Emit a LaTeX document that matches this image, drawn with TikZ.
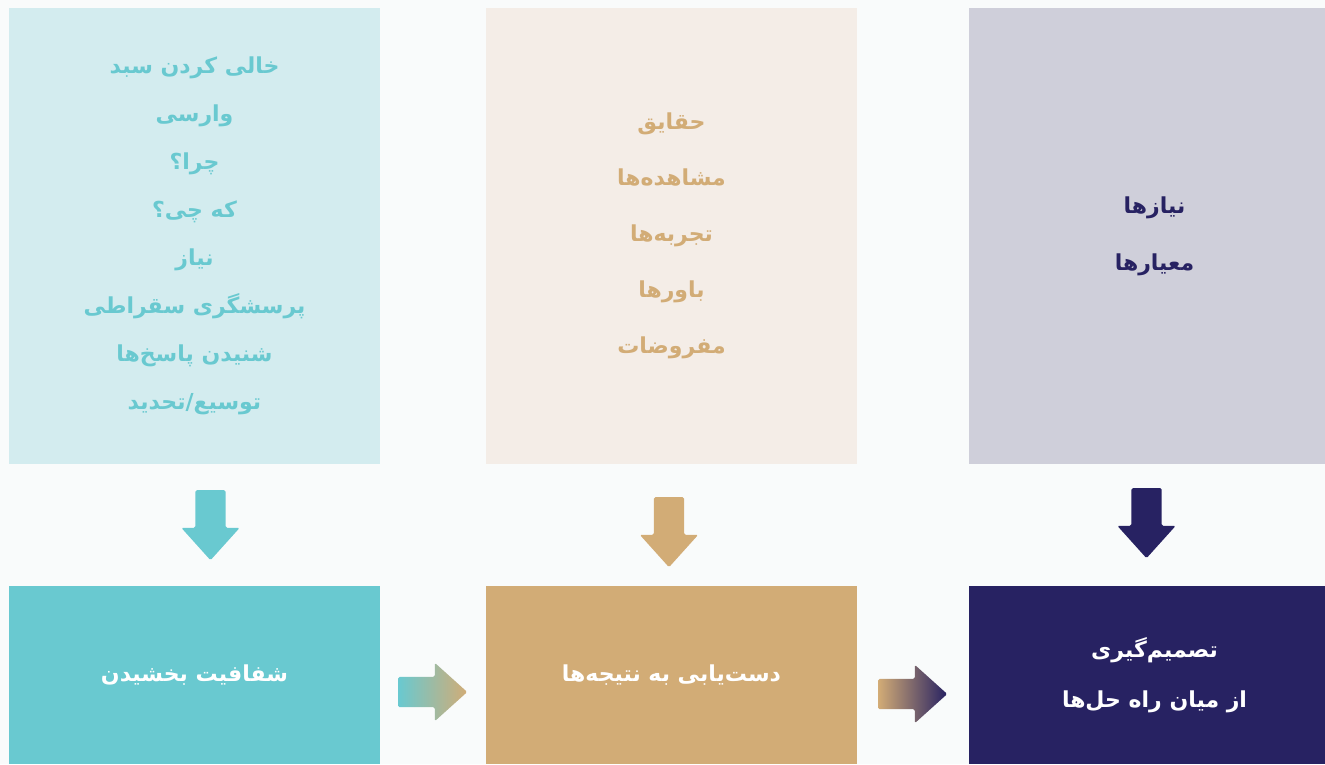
\documentclass[tikz,border=0pt]{standalone}
\usepackage{fontspec}
\newfontfamily\arabicfont[Script=Arabic]{DejaVu Sans}
\TeXXeTstate=1
\usetikzlibrary{shapes.arrows}
\definecolor{tealc}{HTML}{69C9D0}
\definecolor{tealbg}{HTML}{D3ECEF}
\definecolor{sandc}{HTML}{D2AC76}
\definecolor{sandbg}{HTML}{F4EDE7}
\definecolor{navyc}{HTML}{272262}
\definecolor{navybg}{HTML}{CFCFDA}
\definecolor{pagebg}{HTML}{F9FBFB}
\newcommand{\fa}[1]{\beginR #1\endR}
\tikzset{
  inbox/.style={minimum width=371pt, minimum height=456pt, inner sep=0pt, align=center,
    font=\arabicfont\bfseries\fontsize{22}{#1}\selectfont},
  outbox/.style={minimum width=371pt, minimum height=178pt, inner sep=0pt, align=center,
    text=white, font=\arabicfont\bfseries\fontsize{22}{50}\selectfont},
  dnarrow/.style={single arrow, rotate=-90, anchor=tail, draw=none, inner xsep=0pt,
    inner ysep=15pt, minimum height=70pt, minimum width=58pt, single arrow head extend=14pt,
    single arrow tip angle=84, rounded corners=1.5pt},
  rtarrow/.style={single arrow, anchor=tail, draw=none, inner xsep=0pt, inner ysep=15pt,
    minimum height=69pt, minimum width=58pt, single arrow head extend=14pt,
    single arrow tip angle=84, rounded corners=1.5pt}
}
\begin{document}
\begin{tikzpicture}[x=1pt,y=-1pt]
  \useasboundingbox (0,0) rectangle (1325,764);
  \clip (0,0) rectangle (1325,764);
  \fill[pagebg] (0,0) rectangle (1325,764);
  % top boxes
  \node[inbox=48pt, fill=tealbg, text=tealc] (in1) at (194.5,236) {\fa{خالی کردن سبد}\\ \fa{وارسی}\\ \fa{چرا؟}\\ \fa{که چی؟}\\ \fa{نیاز}\\ \fa{پرسشگری سقراطی}\\ \fa{شنیدن پاسخ‌ها}\\ \fa{توسیع/تحدید}};
  \node[inbox=56pt, fill=sandbg, text=sandc] (in2) at (671.5,236) {\fa{حقایق}\\ \fa{مشاهده‌ها}\\ \fa{تجربه‌ها}\\ \fa{باورها}\\ \fa{مفروضات}};
  \node[inbox=57pt, fill=navybg, text=navyc] (in3) at (1154.5,236) {\fa{نیازها}\\ \fa{معیارها}};
  % bottom boxes
  \node[outbox, fill=tealc] (out1) at (194.5,675) {\fa{شفافیت بخشیدن}};
  \node[outbox, fill=sandc] (out2) at (671.5,675) {\fa{دست‌یابی به نتیجه‌ها}};
  \node[outbox, fill=navyc] (out3) at (1154.5,675) {\fa{تصمیم‌گیری}\\ \fa{از میان راه حل‌ها}};
  % down arrows
  \node[dnarrow, fill=tealc] (d1) at (210.5,490) {};
  \node[dnarrow, fill=sandc] (d2) at (669,497) {};
  \node[dnarrow, fill=navyc] (d3) at (1146.5,488) {};
  % arrows between outcomes
  \node[rtarrow, left color=tealc, right color=sandc] (r1) at (398,692) {};
  \node[rtarrow, left color=sandc, right color=navyc] (r2) at (878,694) {};
\end{tikzpicture}
\end{document}
